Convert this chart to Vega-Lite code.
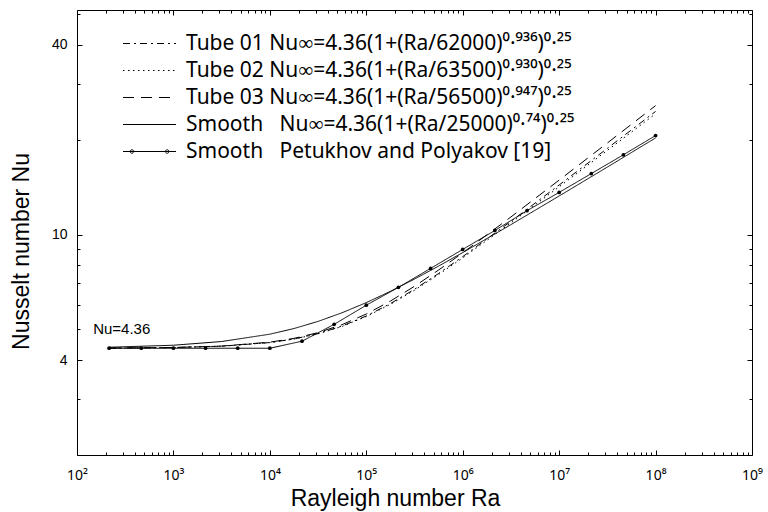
{
  "$schema": "https://vega.github.io/schema/vega-lite/v6.json",
  "width": 675,
  "height": 445,
  "autosize": "none",
  "padding": {"left": 77, "top": 10, "right": 16, "bottom": 57},
  "background": "white",
  "config": {
    "view": {"stroke": "black", "strokeWidth": 1},
    "font": "Liberation Sans",
    "axis": {"grid": false, "domain": false, "tickColor": "black", "labelColor": "black", "titleColor": "black", "labelFont": "Liberation Sans", "titleFont": "Liberation Sans", "titleFontWeight": "normal", "labelFontSize": 14, "tickWidth": 1, "ticks": true}
  },
  "datasets": {
    "curves": [
      {"s": "T1", "Ra": 215.4, "Nu": 4.365}, {"s": "T1", "Ra": 1000, "Nu": 4.383}, {"s": "T1", "Ra": 3162, "Nu": 4.426}, {"s": "T1", "Ra": 10000, "Nu": 4.545}, {"s": "T1", "Ra": 17783, "Nu": 4.665}, {"s": "T1", "Ra": 31623, "Nu": 4.851}, {"s": "T1", "Ra": 56234, "Nu": 5.128}, {"s": "T1", "Ra": 100000, "Nu": 5.517}, {"s": "T1", "Ra": 177828, "Nu": 6.039}, {"s": "T1", "Ra": 316228, "Nu": 6.705}, {"s": "T1", "Ra": 562341, "Nu": 7.526}, {"s": "T1", "Ra": 1000000, "Nu": 8.509}, {"s": "T1", "Ra": 3162278, "Nu": 11.01}, {"s": "T1", "Ra": 10000000, "Nu": 14.355}, {"s": "T1", "Ra": 31622777, "Nu": 18.76}, {"s": "T1", "Ra": 100000000, "Nu": 24.56},
      {"s": "T2", "Ra": 215.4, "Nu": 4.365}, {"s": "T2", "Ra": 1000, "Nu": 4.383}, {"s": "T2", "Ra": 3162, "Nu": 4.426}, {"s": "T2", "Ra": 10000, "Nu": 4.543}, {"s": "T2", "Ra": 17783, "Nu": 4.661}, {"s": "T2", "Ra": 31623, "Nu": 4.844}, {"s": "T2", "Ra": 56234, "Nu": 5.114}, {"s": "T2", "Ra": 100000, "Nu": 5.496}, {"s": "T2", "Ra": 177828, "Nu": 6.007}, {"s": "T2", "Ra": 316228, "Nu": 6.662}, {"s": "T2", "Ra": 562341, "Nu": 7.467}, {"s": "T2", "Ra": 1000000, "Nu": 8.432}, {"s": "T2", "Ra": 3162278, "Nu": 10.887}, {"s": "T2", "Ra": 10000000, "Nu": 14.168}, {"s": "T2", "Ra": 31622777, "Nu": 18.48}, {"s": "T2", "Ra": 100000000, "Nu": 24.15},
      {"s": "T3", "Ra": 215.4, "Nu": 4.366}, {"s": "T3", "Ra": 1000, "Nu": 4.384}, {"s": "T3", "Ra": 3162, "Nu": 4.429}, {"s": "T3", "Ra": 10000, "Nu": 4.558}, {"s": "T3", "Ra": 17783, "Nu": 4.686}, {"s": "T3", "Ra": 31623, "Nu": 4.886}, {"s": "T3", "Ra": 56234, "Nu": 5.182}, {"s": "T3", "Ra": 100000, "Nu": 5.598}, {"s": "T3", "Ra": 177828, "Nu": 6.151}, {"s": "T3", "Ra": 316228, "Nu": 6.854}, {"s": "T3", "Ra": 562341, "Nu": 7.717}, {"s": "T3", "Ra": 1000000, "Nu": 8.748}, {"s": "T3", "Ra": 3162278, "Nu": 11.369}, {"s": "T3", "Ra": 10000000, "Nu": 14.876}, {"s": "T3", "Ra": 31622777, "Nu": 19.51}, {"s": "T3", "Ra": 100000000, "Nu": 25.62},
      {"s": "S", "Ra": 215.4, "Nu": 4.392}, {"s": "S", "Ra": 1000, "Nu": 4.457}, {"s": "S", "Ra": 3162, "Nu": 4.579}, {"s": "S", "Ra": 10000, "Nu": 4.831}, {"s": "S", "Ra": 17783, "Nu": 5.034}, {"s": "S", "Ra": 31623, "Nu": 5.304}, {"s": "S", "Ra": 56234, "Nu": 5.651}, {"s": "S", "Ra": 100000, "Nu": 6.083}, {"s": "S", "Ra": 177828, "Nu": 6.605}, {"s": "S", "Ra": 316228, "Nu": 7.224}, {"s": "S", "Ra": 562341, "Nu": 7.942}, {"s": "S", "Ra": 1000000, "Nu": 8.765}, {"s": "S", "Ra": 3162278, "Nu": 10.748}, {"s": "S", "Ra": 10000000, "Nu": 13.247}, {"s": "S", "Ra": 31622777, "Nu": 16.364}, {"s": "S", "Ra": 100000000, "Nu": 20.239},
      {"s": "P", "Ra": 215.4, "Nu": 4.36}, {"s": "P", "Ra": 464.2, "Nu": 4.36}, {"s": "P", "Ra": 1000, "Nu": 4.36}, {"s": "P", "Ra": 2154, "Nu": 4.36}, {"s": "P", "Ra": 4642, "Nu": 4.36}, {"s": "P", "Ra": 10000, "Nu": 4.36}, {"s": "P", "Ra": 21544, "Nu": 4.59}, {"s": "P", "Ra": 46416, "Nu": 5.19}, {"s": "P", "Ra": 100000, "Nu": 5.97}, {"s": "P", "Ra": 215443, "Nu": 6.8}, {"s": "P", "Ra": 464159, "Nu": 7.81}, {"s": "P", "Ra": 1000000, "Nu": 8.97}, {"s": "P", "Ra": 2154435, "Nu": 10.3}, {"s": "P", "Ra": 4641589, "Nu": 11.9}, {"s": "P", "Ra": 10000000, "Nu": 13.6}, {"s": "P", "Ra": 21544347, "Nu": 15.6}, {"s": "P", "Ra": 46415888, "Nu": 17.9}, {"s": "P", "Ra": 100000000, "Nu": 20.6}
    ],
    "note": [{"Ra": 147, "Nu": 4.83, "label": "Nu=4.36"}]
  },
  "layer": [
    {
      "data": {"name": "curves"},
      "mark": {"type": "line", "color": "black", "strokeWidth": 1},
      "encoding": {
        "x": {"field": "Ra", "type": "quantitative", "scale": {"type": "log", "domain": [100, 1000000000], "nice": false},
          "axis": {"orient": "bottom", "offset": -5, "values": [100, 1000, 10000, 100000, 1000000, 10000000, 100000000, 1000000000], "tickSize": 5, "labelPadding": 13, "labelBaseline": "top", "labelFont": "Noto Sans",
            "labelExpr": "'10' + ['⁰','¹','²','³','⁴','⁵','⁶','⁷','⁸','⁹'][round(log(datum.value)/LN10)]",
            "labelFlush": false, "labelOverlap": false,
            "title": "Rayleigh number Ra", "titleFontSize": 23, "titleX": 318, "titleY": 55, "titleAlign": "center", "titleBaseline": "alphabetic"}},
        "y": {"field": "Nu", "type": "quantitative", "scale": {"type": "log", "domain": [2, 51.5], "nice": false},
          "axis": {"orient": "left", "offset": -5, "values": [4, 10, 40], "tickSize": 5, "labelPadding": 10, "labelExpr": "datum.value + ''", "labelFlush": false,
            "title": "Nusselt number Nu", "titleFontSize": 23, "titleX": -54, "titleY": 241, "titleAlign": "center", "titleBaseline": "alphabetic", "titleAngle": 270}},
        "strokeDash": {"field": "s", "type": "nominal",
          "scale": {"domain": ["T1", "T2", "T3", "S", "P"], "range": [[7, 4, 2, 4], [1.5, 3.5], [11, 7], [1, 0], [1, 0]]},
          "legend": {"orient": "none", "legendX": 62, "legendY": 23, "title": null, "symbolType": "M-3,0H3", "symbolSize": 312, "symbolStrokeWidth": 1, "symbolStrokeColor": "black", "symbolFillColor": "transparent",
            "labelFontSize": 21, "labelFont": "Noto Sans", "labelColor": "black", "labelLimit": 800, "labelOffset": 26, "rowPadding": 5,
            "labelExpr": "{'T1':'Tube 01 Nu∞=4.36(1+(Ra/62000)⁰·⁹³⁶)⁰·²⁵','T2':'Tube 02 Nu∞=4.36(1+(Ra/63500)⁰·⁹³⁰)⁰·²⁵','T3':'Tube 03 Nu∞=4.36(1+(Ra/56500)⁰·⁹⁴⁷)⁰·²⁵','S':'Smooth\u00a0\u00a0 Nu∞=4.36(1+(Ra/25000)⁰·⁷⁴)⁰·²⁵','P':'Smooth\u00a0\u00a0 Petukhov and Polyakov [19]'}[datum.label]",
            "encode": {"symbols": {"update": {"shape": [{"test": "datum.value === 'P'", "value": "M-3,0H3M-2.2,0a0.2,0.2 0 1,0 0.4,0a0.2,0.2 0 1,0 -0.4,0M1.8,0a0.2,0.2 0 1,0 0.4,0a0.2,0.2 0 1,0 -0.4,0"}, {"value": "M-3,0H3"}]}}}}}
      }
    },
    {
      "data": {"name": "curves"},
      "transform": [{"filter": "datum.s == 'P'"}],
      "mark": {"type": "point", "filled": true, "color": "black", "size": 14, "opacity": 1},
      "encoding": {
        "x": {"field": "Ra", "type": "quantitative", "axis": null},
        "y": {"field": "Nu", "type": "quantitative", "axis": null}
      }
    },
    {
      "data": {"name": "curves"},
      "mark": {"type": "line", "opacity": 0},
      "encoding": {
        "x": {"field": "Ra", "type": "quantitative",
          "axis": {"orient": "bottom", "offset": -3, "labels": false, "title": null, "tickSize": 3, "values": [200,300,400,500,600,700,800,900,2000,3000,4000,5000,6000,7000,8000,9000,20000,30000,40000,50000,60000,70000,80000,90000,200000,300000,400000,500000,600000,700000,800000,900000,2000000,3000000,4000000,5000000,6000000,7000000,8000000,9000000,20000000,30000000,40000000,50000000,60000000,70000000,80000000,90000000,200000000,300000000,400000000,500000000,600000000,700000000,800000000,900000000]}},
        "y": {"field": "Nu", "type": "quantitative",
          "axis": {"orient": "left", "offset": -3, "labels": false, "title": null, "tickSize": 3, "values": [3, 5, 6, 7, 8, 9, 20, 30, 50]}}
      }
    },
    {
      "data": {"name": "curves"},
      "mark": {"type": "line", "opacity": 0},
      "encoding": {
        "x": {"field": "Ra", "type": "quantitative",
          "axis": {"orient": "top", "offset": -5, "labels": false, "title": null, "tickSize": 5, "values": [100, 1000, 10000, 100000, 1000000, 10000000, 100000000, 1000000000]}},
        "y": {"field": "Nu", "type": "quantitative",
          "axis": {"orient": "right", "offset": -5, "labels": false, "title": null, "tickSize": 5, "values": [4, 10, 40]}}
      }
    },
    {
      "data": {"name": "curves"},
      "mark": {"type": "line", "opacity": 0},
      "encoding": {
        "x": {"field": "Ra", "type": "quantitative",
          "axis": {"orient": "top", "offset": -3, "labels": false, "title": null, "tickSize": 3, "values": [200,300,400,500,600,700,800,900,2000,3000,4000,5000,6000,7000,8000,9000,20000,30000,40000,50000,60000,70000,80000,90000,200000,300000,400000,500000,600000,700000,800000,900000,2000000,3000000,4000000,5000000,6000000,7000000,8000000,9000000,20000000,30000000,40000000,50000000,60000000,70000000,80000000,90000000,200000000,300000000,400000000,500000000,600000000,700000000,800000000,900000000]}},
        "y": {"field": "Nu", "type": "quantitative",
          "axis": {"orient": "right", "offset": -3, "labels": false, "title": null, "tickSize": 3, "values": [3, 5, 6, 7, 8, 9, 20, 30, 50]}}
      }
    },
    {
      "data": {"name": "note"},
      "mark": {"type": "text", "align": "left", "baseline": "alphabetic", "fontSize": 15, "font": "Liberation Sans", "color": "black"},
      "encoding": {
        "x": {"field": "Ra", "type": "quantitative", "axis": null},
        "y": {"field": "Nu", "type": "quantitative", "axis": null},
        "text": {"field": "label"}
      }
    }
  ],
  "resolve": {"axis": {"x": "independent", "y": "independent"}}
}
